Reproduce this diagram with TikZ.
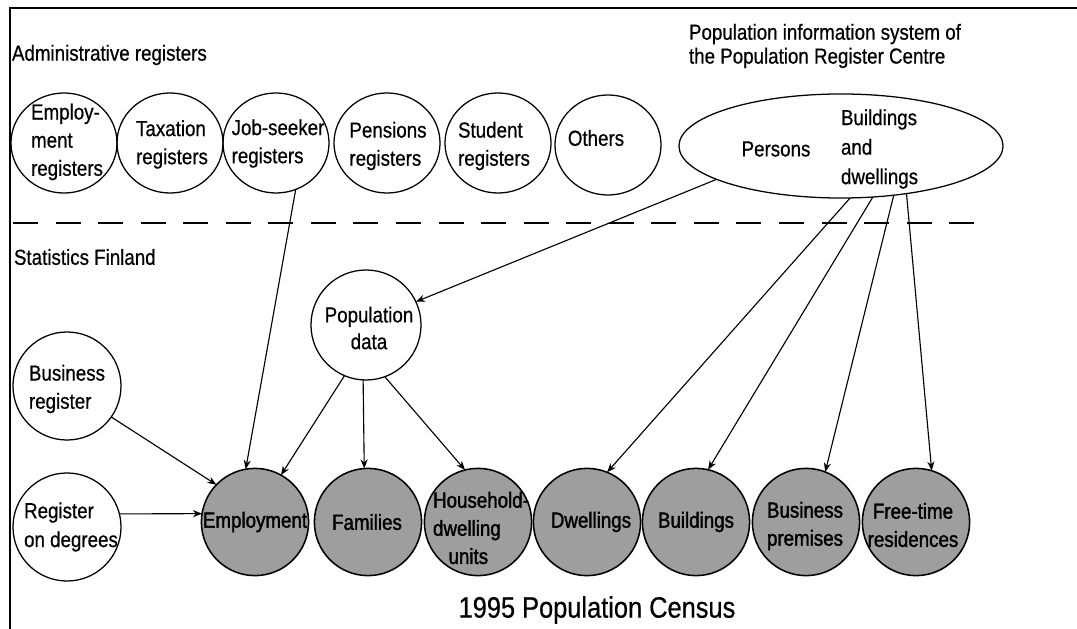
\documentclass[tikz,border=0pt]{standalone}
\usepackage{fontspec}
\setmainfont[FakeStretch=0.86,FakeBold=0.6]{Liberation Sans}
\newfontfamily\heavyfont[FakeStretch=0.86,FakeBold=1.6]{Liberation Sans}
\usetikzlibrary{shapes.geometric,arrows.meta}
\begin{document}
\begin{tikzpicture}[x=0.025cm,y=-0.025cm,
  every node/.style={inner sep=0pt, outer sep=0pt},
  txt/.style={font=\fontsize{15.5}{20}\selectfont, align=left},
  ctxt/.style={font=\heavyfont\fontsize{15.5}{20}\selectfont, align=left},
  topreg/.style={ellipse, draw, line width=0.9pt, minimum width=2.65cm, minimum height=2.5cm},
  src/.style={circle, draw, line width=0.9pt, minimum size=2.7cm},
  cen/.style={circle, draw, line width=1.1pt, minimum size=2.68cm, fill=black!38},
  arr/.style={-{Stealth[length=6.5pt,width=5pt]}, line width=0.8pt},
  sepline/.style={line width=0.9pt, dash pattern=on 0.625cm off 0.4386cm},
  frameline/.style={line width=1.5pt}
]
\useasboundingbox (0,0) rectangle (1077,629);
\draw[frameline] (10,629) -- (10,8) -- (1077,8);

% headings
\node[txt, anchor=west] (adm) at (12,55) {Administrative registers};
\node[txt, anchor=west, font=\fontsize{15.5}{17}\selectfont] (pis) at (689,46) {Population information system of\\the Population Register Centre};
\node[txt, anchor=west] (sf) at (14,257) {Statistics Finland};

% separator
\draw[sepline] (13,223) -- (974,223);

% administrative registers
\node[topreg] (er) at (64,143) {};
\node[txt] (ert) at (67,142) {Employ-\\ment\\registers};
\node[topreg] (tax) at (170,143) {};
\node[txt] (taxt) at (172,144.5) {Taxation\\registers};
\node[topreg] (job) at (276,143) {};
\node[txt] (jobt) at (278,143.5) {Job-seeker\\registers};
\node[topreg] (pen) at (387,143) {};
\node[txt] (pent) at (388,146) {Pensions\\registers};
\node[topreg] (stu) at (498,143) {};
\node[txt] (stut) at (494,146) {Student\\registers};
\node[topreg] (oth) at (608,145) {};
\node[txt] (otht) at (596,138) {Others};

% population information system
\node[ellipse, draw, line width=0.9pt, minimum width=8.1cm, minimum height=2.6cm] (ell) at (841,146) {};
\node[txt] (per) at (776,149) {Persons};
\node[txt, anchor=west, font=\fontsize{15.5}{21}\selectfont] (bd) at (841,149) {Buildings\\and\\dwellings};

% Statistics Finland sources
\node[src, minimum size=2.75cm] (pop) at (366,325) {};
\node[txt, align=center, font=\fontsize{15.5}{19}\selectfont] (popt) at (369,328) {Population\\data};
\node[src] (bus) at (67,386) {};
\node[txt] (bust) at (67,389) {Business\\register};
\node[src] (deg) at (67,527) {};
\node[txt, font=\fontsize{15.5}{20.5}\selectfont] (degt) at (71,527) {Register\\on degrees};

% census
\node[cen] (emp) at (255,522) {};
\node[cen] (fam) at (368,522) {};
\node[cen] (hh) at (478,522) {};
\node[cen] (dw) at (587,522) {};
\node[cen] (bld) at (696,522) {};
\node[cen] (bp) at (806,522) {};
\node[cen] (ft) at (916,522) {};
\node[ctxt] (empt) at (255,522) {Employment};
\node[ctxt] (famt) at (367,522) {Families};
\node[ctxt] (hht) at (481,528) {Household-\\dwelling\\\hspace*{11pt}units};
\node[ctxt] (dwt) at (591,522) {Dwellings};
\node[ctxt] (bldt) at (696,522) {Buildings};
\node[ctxt] (bpt) at (805,526) {Business\\premises};
\node[ctxt, align=center] (ftt) at (913,525) {Free-time\\residences};
\node[font=\fontsize{21}{24}\selectfont] (title) at (597,610) {1995 Population Census};

% connectors
\draw[arr] (job.-67) -- (emp.100);
\draw[arr] (ell.195) -- (pop.25);
\draw[arr] (pop.-113) -- (emp.61);
\draw[arr] (pop.-93) -- (fam.94);
\draw[arr] (pop.-70) -- (hh.104);
\draw[arr] (bus.-35) -- (emp.136);
\draw[arr] (deg.14) -- (emp.171);
\draw[arr] (ell.-80) -- (dw.68);
\draw[arr] (ell.-58) -- (bld.77);
\draw[arr] (ell.-43) -- (bp.69);
\draw[arr] (ell.-36) -- (ft.73);
\end{tikzpicture}
\end{document}
